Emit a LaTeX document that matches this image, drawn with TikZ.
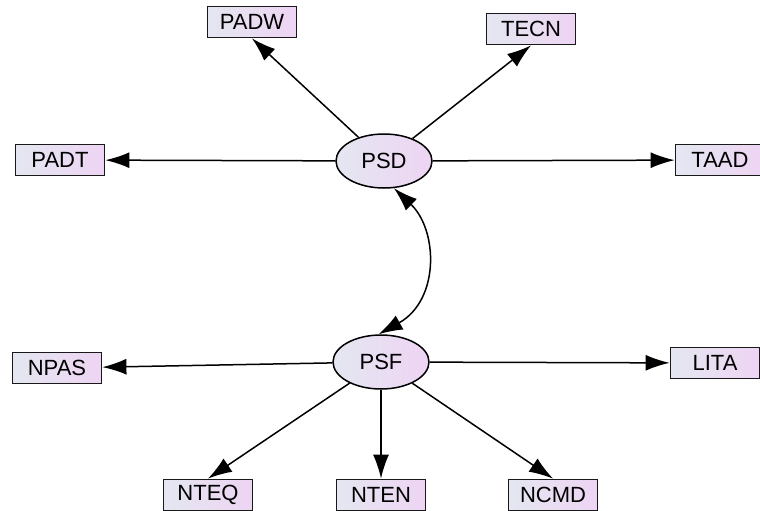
\documentclass[tikz,border=0pt]{standalone}
\usepackage{fontspec}
\setmainfont{Liberation Sans}
\usetikzlibrary{arrows.meta,shapes.geometric}

\definecolor{shadeleft}{RGB}{228,231,241}
\definecolor{shaderight}{RGB}{238,212,243}

\tikzset{
  obs/.style={draw=black!90,line width=1.8pt,left color=shadeleft,right color=shaderight,
    minimum width=89pt,minimum height=31pt,inner sep=0pt,font=\fontsize{22}{26}\selectfont},
  lat/.style={draw,ellipse,line width=1.5pt,left color=shadeleft,right color=shaderight,
    minimum width=96pt,minimum height=54pt,inner sep=0pt,font=\fontsize{22}{26}\selectfont},
  path/.style={line width=1.5pt,-{Latex[length=24pt,width=16pt]}}
}

\begin{document}
\begin{tikzpicture}[x=1pt,y=-1pt]
  \useasboundingbox (0,0) rectangle (760,511);

  \node[lat] (PSD) at (384,161) {PSD};
  \node[lat] (PSF) at (381,362) {PSF};

  \node[obs] (PADW) at (252,22) {PADW};
  \node[obs] (TECN) at (531,29) {TECN};
  \node[obs] (PADT) at (60,160) {PADT};
  \node[obs] (TAAD) at (720,160) {TAAD};

  \node[obs] (NPAS) at (57,368) {NPAS};
  \node[obs] (LITA) at (715,363) {LITA};
  \node[obs] (NTEQ) at (208,495) {NTEQ};
  \node[obs] (NTEN) at (381,495) {NTEN};
  \node[obs] (NCMD) at (553,495) {NCMD};

  \draw[path] (PSD) -- (PADW.south);
  \draw[path] (PSD) -- (TECN.south);
  \draw[path] (PSD) -- (PADT);
  \draw[path] (PSD) -- (TAAD);

  \draw[path] (PSF) -- (NPAS);
  \draw[path] (PSF) -- (LITA);
  \draw[path] (PSF) -- (NTEQ.north);
  \draw[path] (PSF) -- (NTEN);
  \draw[path] (PSF) -- (NCMD.north);

  % correlation between the two factors
  \draw[line width=1.5pt,{Latex[length=24pt,width=16pt]}-{Latex[length=24pt,width=16pt]}]
    (PSD.290) .. controls (438,230) and (440,300) .. (PSF.95);

\end{tikzpicture}
\end{document}
